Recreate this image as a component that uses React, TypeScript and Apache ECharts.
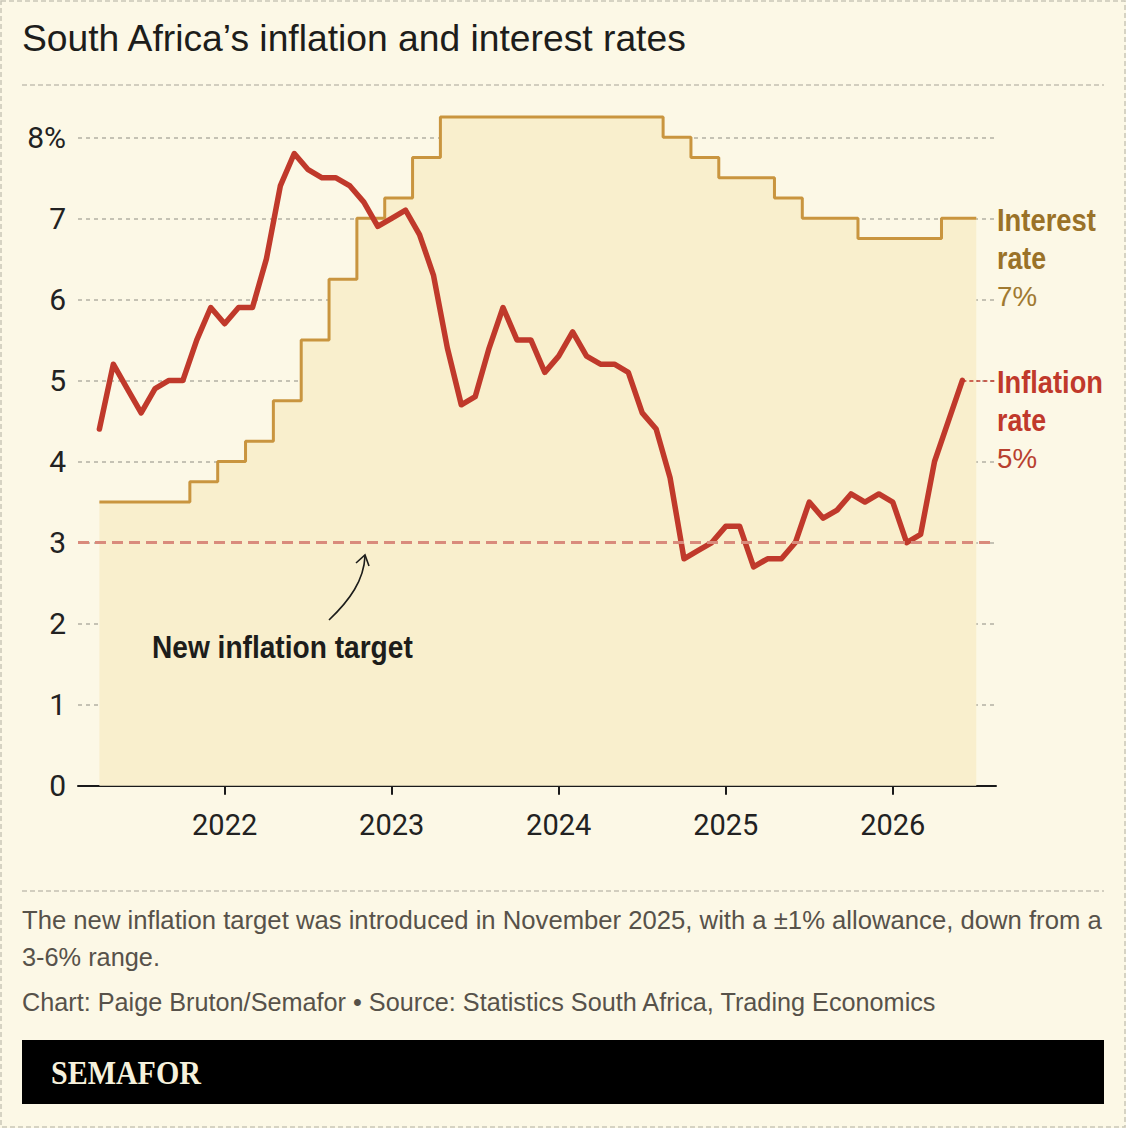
import React, { useEffect, useRef } from "react";
import * as echarts from "echarts";

// Monthly periods (interest rate runs one month longer than CPI)
const months = [
  "2021-04", "2021-05", "2021-06", "2021-07", "2021-08", "2021-09", "2021-10", "2021-11", "2021-12",
  "2022-01", "2022-02", "2022-03", "2022-04", "2022-05", "2022-06", "2022-07", "2022-08", "2022-09", "2022-10", "2022-11", "2022-12",
  "2023-01", "2023-02", "2023-03", "2023-04", "2023-05", "2023-06", "2023-07", "2023-08", "2023-09", "2023-10", "2023-11", "2023-12",
  "2024-01", "2024-02", "2024-03", "2024-04", "2024-05", "2024-06", "2024-07", "2024-08", "2024-09", "2024-10", "2024-11", "2024-12",
  "2025-01", "2025-02", "2025-03", "2025-04", "2025-05", "2025-06", "2025-07", "2025-08", "2025-09", "2025-10", "2025-11", "2025-12",
  "2026-01", "2026-02", "2026-03", "2026-04", "2026-05", "2026-06", "2026-07",
];

const inflation = [
  4.4, 5.2, 4.9, 4.6, 4.9, 5.0, 5.0, 5.5, 5.9,
  5.7, 5.9, 5.9, 6.5, 7.4, 7.8, 7.6, 7.5, 7.5, 7.4, 7.2, 6.9,
  7.0, 7.1, 6.8, 6.3, 5.4, 4.7, 4.8, 5.4, 5.9, 5.5, 5.5, 5.1,
  5.3, 5.6, 5.3, 5.2, 5.2, 5.1, 4.6, 4.4, 3.8, 2.8, 2.9, 3.0,
  3.2, 3.2, 2.7, 2.8, 2.8, 3.0, 3.5, 3.3, 3.4, 3.6, 3.5, 3.6,
  3.5, 3.0, 3.1, 4.0, 4.5, 5.0,
];

const interest = [
  3.5, 3.5, 3.5, 3.5, 3.5, 3.5, 3.5, 3.75, 3.75,
  4.0, 4.0, 4.25, 4.25, 4.75, 4.75, 5.5, 5.5, 6.25, 6.25, 7.0, 7.0,
  7.25, 7.25, 7.75, 7.75, 8.25, 8.25, 8.25, 8.25, 8.25, 8.25, 8.25, 8.25,
  8.25, 8.25, 8.25, 8.25, 8.25, 8.25, 8.25, 8.25, 8.0, 8.0, 7.75, 7.75,
  7.5, 7.5, 7.5, 7.5, 7.25, 7.25, 7.0, 7.0, 7.0, 7.0, 6.75, 6.75,
  6.75, 6.75, 6.75, 6.75, 7.0, 7.0, 7.0,
];

const yearTicks = [2022, 2023, 2024, 2025, 2026];
const yTicks = [0, 1, 2, 3, 4, 5, 6, 7, 8];
const targetRate = 3;

const TITLE = "South Africa\u2019s inflation and interest rates";
const NOTE1 = "The new inflation target was introduced in November 2025, with a \u00b11% allowance, down from a";
const NOTE2 = "3-6% range.";
const SOURCE = "Chart: Paige Bruton/Semafor \u2022 Source: Statistics South Africa, Trading Economics";

const BG = "#fcf8e6";
const AREA = "#f9efcd";
const GOLD = "#c9953f";
const GOLD_TXT = "#9a7228";
const RED = "#c0392b";
const GRID = "#b3b0a4";

// month string -> fractional year position on the x scale
function toYear(m: string) {
  const [y, mo] = m.split("-").map(Number);
  return y + (mo - 1) / 12;
}

function fit(text: string, font: string, target: number) {
  const ctx = document.createElement("canvas").getContext("2d");
  if (!ctx) return 1;
  ctx.font = font;
  const w = ctx.measureText(text).width;
  return w > 0 ? target / w : 1;
}

function txt(text: string, x: number, y: number, font: string, fill: string, targetW?: number) {
  const sx = targetW ? fit(text, font, targetW) : 1;
  return {
    type: "text",
    x,
    y,
    z: 100,
    scaleX: sx,
    silent: true,
    style: { text, font, fill, textAlign: "left", textVerticalAlign: "middle", verticalAlign: "middle" },
  };
}

export default function App() {
  const ref = useRef<HTMLDivElement>(null);
  useEffect(() => {
    if (!ref.current) return;
    const chart = echarts.init(ref.current, undefined, { renderer: "svg" });
    const xs = months.map(toYear);
    const xMin = 2021.122;
    const xMax = 2026.618;
    const lastIdx = inflation.length - 1;

    const sansB = (s: number) => `bold ${s}px "Liberation Sans", Arial, sans-serif`;
    const sans = (s: number) => `${s}px "Liberation Sans", Arial, sans-serif`;

    const option: any = {
      animation: false,
      backgroundColor: BG,
      grid: { left: 78, right: 130, top: 137.3, bottom: 342.3 },
      xAxis: {
        type: "value",
        min: xMin,
        max: xMax,
        axisLine: { show: true, lineStyle: { color: "#1a1a1a", width: 2 } },
        axisTick: {
          show: true,
          length: 9,
          lineStyle: { color: "#1a1a1a", width: 2 },
          customValues: yearTicks,
        },
        axisLabel: {
          customValues: yearTicks,
          formatter: (v: number) => String(Math.round(v)),
          fontFamily: "Roboto",
          fontSize: 29,
          color: "#222",
          margin: 25,
        },
        splitLine: { show: false },
      },
      yAxis: {
        type: "value",
        min: 0,
        max: 8,
        interval: 1,
        axisLine: { show: false },
        axisTick: { show: false },
        axisLabel: {
          formatter: (v: number) => (v === yTicks[yTicks.length - 1] ? `${v}%` : String(v)),
          fontFamily: "Roboto",
          fontSize: 30,
          color: "#222",
          margin: 12,
          padding: [4, 0, 0, 0],
        },
        splitLine: { show: true, lineStyle: { color: GRID, width: 1.5, type: [4, 4] } },
      },
      series: [
        {
          name: "Interest rate",
          type: "line",
          step: "middle",
          data: interest.map((v, i) => [xs[i], v]),
          symbol: "none",
          clip: false,
          z: 2,
          lineStyle: { color: GOLD, width: 3 },
          areaStyle: { color: AREA, opacity: 1 },
        },
        {
          name: "Target",
          type: "line",
          data: [],
          z: 3,
          markLine: {
            silent: true,
            symbol: "none",
            label: { show: false },
            lineStyle: { color: "#d98b7c", width: 3, type: [11, 6] },
            data: [{ yAxis: targetRate }],
          },
        },
        {
          name: "Inflation rate",
          type: "line",
          data: inflation.map((v, i) => [xs[i], v]),
          symbol: "none",
          clip: false,
          z: 4,
          lineStyle: { color: RED, width: 5.5, join: "round", cap: "round" },
          markLine: {
            silent: true,
            symbol: "none",
            label: { show: false },
            lineStyle: { color: RED, width: 1.5, type: [4, 3] },
            data: [[{ coord: [xs[lastIdx], inflation[lastIdx]] }, { coord: [xMax, inflation[lastIdx]] }]],
          },
        },
      ],
      graphic: [
        {
          type: "rect",
          silent: true,
          z: 100,
          shape: { x: 1, y: 1, width: 1124, height: 1126 },
          style: { fill: "none", stroke: "#c9c6b8", lineWidth: 1.5, lineDash: [5, 3] },
        },
        txt(TITLE, 22, 38, sans(37), "#1d1d1b", 666),
        {
          type: "line",
          silent: true,
          z: 100,
          shape: { x1: 22, y1: 85, x2: 1104, y2: 85 },
          style: { stroke: "#c3c0b3", lineWidth: 1.5, lineDash: [5, 3] },
        },
        txt("New inflation target", 152, 647, sansB(31), "#1d1d1b", 261),
        {
          type: "bezierCurve",
          silent: true,
          z: 100,
          shape: { x1: 329, y1: 620, cpx1: 350, cpy1: 600, cpx2: 364, cpy2: 580, x2: 365, y2: 556 },
          style: { stroke: "#1d1d1b", lineWidth: 1.6, fill: "none" },
        },
        {
          type: "polyline",
          silent: true,
          z: 100,
          shape: { points: [[356, 563], [365, 555], [369, 566]] },
          style: { stroke: "#1d1d1b", lineWidth: 1.6, fill: "none" },
        },
        txt("Interest", 997, 220, sansB(31), GOLD_TXT, 99),
        txt("rate", 997, 258, sansB(31), GOLD_TXT, 49),
        txt(`${interest[interest.length - 1]}%`, 997, 296, sans(28), "#a07a31", 40),
        txt("Inflation", 997, 382, sansB(31), RED, 106),
        txt("rate", 997, 420, sansB(31), RED, 49),
        txt(`${inflation[lastIdx]}%`, 997, 458, sans(28), "#b8402f", 40),
        {
          type: "line",
          silent: true,
          z: 100,
          shape: { x1: 22, y1: 891, x2: 1104, y2: 891 },
          style: { stroke: "#c3c0b3", lineWidth: 1.5, lineDash: [5, 3] },
        },
        txt(NOTE1, 22, 920, sans(25), "#57524a", 1080),
        txt(NOTE2, 22, 957, sans(25), "#57524a", 138),
        txt(SOURCE, 22, 1002, sans(25), "#57524a", 916),
        {
          type: "rect",
          silent: true,
          z: 100,
          shape: { x: 22, y: 1040, width: 1082, height: 64 },
          style: { fill: "#000" },
        },
        txt("SEMAFOR", 51, 1073, `bold 33px "Liberation Serif", "DejaVu Serif", serif`, "#f6f1dc", 150),
      ],
    };
    chart.setOption(option);
    return () => chart.dispose();
  }, []);
  return (
    <div
      ref={ref}
      style={{ position: "fixed", left: 0, top: 0, width: 1126, height: 1128, background: BG }}
    />
  );
}
